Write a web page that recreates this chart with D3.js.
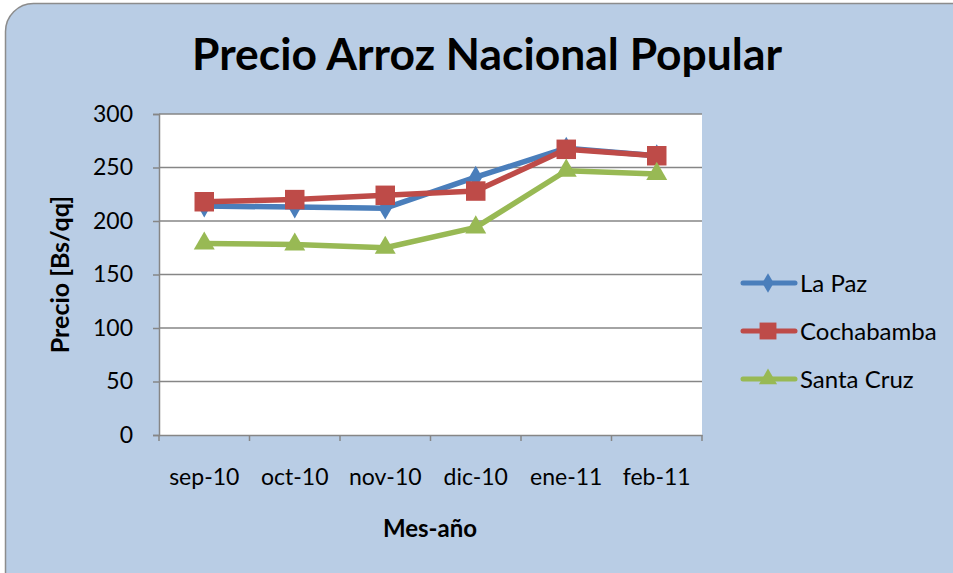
<!DOCTYPE html>
<html>
<head>
<meta charset="utf-8">
<script src="https://cdn.jsdelivr.net/npm/d3@7"></script>
<style>
  body { margin: 0; background: #fff; }
  text { font-family: Lato, "Open Sans", sans-serif; }
</style>
</head>
<body>
<div id="grafico"></div>
<script>
// Datos del gráfico
const meses = ["sep-10", "oct-10", "nov-10", "dic-10", "ene-11", "feb-11"];
const laPaz = [214, 213, 212, 241, 268, 261];
const cochabamba = [218, 220, 224, 228, 267, 261];
const santaCruz = [179, 178, 175, 194, 247, 244];
const yTicks = [0, 50, 100, 150, 200, 250, 300];

const series = [
  {name: "La Paz", values: laPaz, color: "#4a7ebb", symbol: d3.symbolDiamond, size: 150},
  {name: "Cochabamba", values: cochabamba, color: "#be4b48", symbol: d3.symbolSquare, size: 380},
  {name: "Santa Cruz", values: santaCruz, color: "#98b954", symbol: d3.symbolTriangle, size: 190}
];

const W = 953, H = 573;
const margin = {top: 114, right: 251, bottom: 138, left: 159};
const width = W - margin.left - margin.right,
      height = H - margin.top - margin.bottom;

const svg = d3.select("#grafico")
  .append("svg")
    .attr("width", W)
    .attr("height", H);

// marco del gráfico
svg.append("rect")
  .attr("x", 5.5).attr("y", 3.5)
  .attr("width", W + 40).attr("height", H + 40)
  .attr("rx", 28).attr("ry", 28)
  .attr("fill", "#b9cde5")
  .attr("stroke", "#8c8c8c")
  .attr("stroke-width", 1.5);

// título
svg.append("text")
  .attr("x", 487).attr("y", 70)
  .attr("text-anchor", "middle")
  .attr("font-size", 43)
  .attr("font-weight", "bold")
  .attr("textLength", 590)
  .attr("lengthAdjust", "spacingAndGlyphs")
  .text("Precio Arroz Nacional Popular");

const g = svg.append("g")
  .attr("transform", `translate(${margin.left},${margin.top})`);

g.append("rect")
  .attr("width", width).attr("height", height)
  .attr("fill", "#fff");

// Escalas
const x = d3.scaleBand().domain(meses).range([0, width]);
const y = d3.scaleLinear().domain([0, 300]).range([height, 0]);

// líneas de la grilla
g.selectAll(".grid")
  .data(yTicks.slice(1))
  .join("line")
    .attr("x1", 0).attr("x2", width)
    .attr("y1", d => y(d)).attr("y2", d => y(d))
    .attr("stroke", "#868686")
    .attr("stroke-width", 1.5);

// Eje y
const yAxis = g.append("g")
  .call(d3.axisLeft(y).tickValues(yTicks).tickSize(6).tickPadding(20));
yAxis.select(".domain").attr("stroke", "#868686").attr("stroke-width", 1.5);
yAxis.selectAll("line").attr("stroke", "#868686").attr("stroke-width", 1.5);
yAxis.selectAll("text").attr("font-size", 23).attr("fill", "#000")
  .style("font-family", "Lato, sans-serif");

// Eje x
const xAxis = g.append("g")
  .attr("transform", `translate(0,${height})`)
  .call(d3.axisBottom(x).tickSize(0).tickPadding(34));
xAxis.select(".domain").attr("stroke", "#868686").attr("stroke-width", 1.5);
xAxis.selectAll("text").attr("font-size", 23).attr("fill", "#000")
  .style("font-family", "Lato, sans-serif");
// marcas entre categorías
g.selectAll(".xtick")
  .data(d3.range(meses.length + 1))
  .join("line")
    .attr("x1", i => i * x.step()).attr("x2", i => i * x.step())
    .attr("y1", height).attr("y2", height + 6)
    .attr("stroke", "#868686")
    .attr("stroke-width", 1.5);

// etiquetas de los ejes
svg.append("text")
  .attr("text-anchor", "middle")
  .attr("transform", `translate(69,${margin.top + height / 2}) rotate(-90)`)
  .attr("font-size", 25)
  .attr("font-weight", "bold")
  .text("Precio [Bs/qq]");

svg.append("text")
  .attr("text-anchor", "middle")
  .attr("x", 430).attr("y", 537)
  .attr("font-size", 24)
  .attr("font-weight", "bold")
  .text("Mes-año");

// Líneas y marcadores
const line = d3.line()
  .x((d, i) => x(meses[i]) + x.bandwidth() / 2)
  .y(d => y(d));

series.forEach(s => {
  g.append("path")
    .datum(s.values)
    .attr("d", line)
    .attr("fill", "none")
    .attr("stroke", s.color)
    .attr("stroke-width", 5.5)
    .attr("stroke-linejoin", "round");

  g.selectAll(null)
    .data(s.values)
    .join("path")
      .attr("d", d3.symbol().type(s.symbol).size(s.size))
      .attr("transform", (d, i) => `translate(${x(meses[i]) + x.bandwidth() / 2},${y(d)})`)
      .attr("fill", s.color);
});

// Leyenda
const legend = svg.append("g")
  .attr("transform", "translate(741,283)");

const item = legend.selectAll("g")
  .data(series)
  .join("g")
    .attr("transform", (d, i) => `translate(0,${i * 48})`);

item.append("line")
  .attr("x1", 2).attr("x2", 54)
  .attr("stroke", d => d.color)
  .attr("stroke-width", 5)
  .attr("stroke-linecap", "round");

item.append("path")
  .attr("d", d => d3.symbol().type(d.symbol).size(d.size * 0.75)())
  .attr("transform", "translate(27,0)")
  .attr("fill", d => d.color);

item.append("text")
  .attr("x", 59).attr("y", 8.5)
  .attr("font-size", 24)
  .text(d => d.name);
</script>
</body>
</html>
